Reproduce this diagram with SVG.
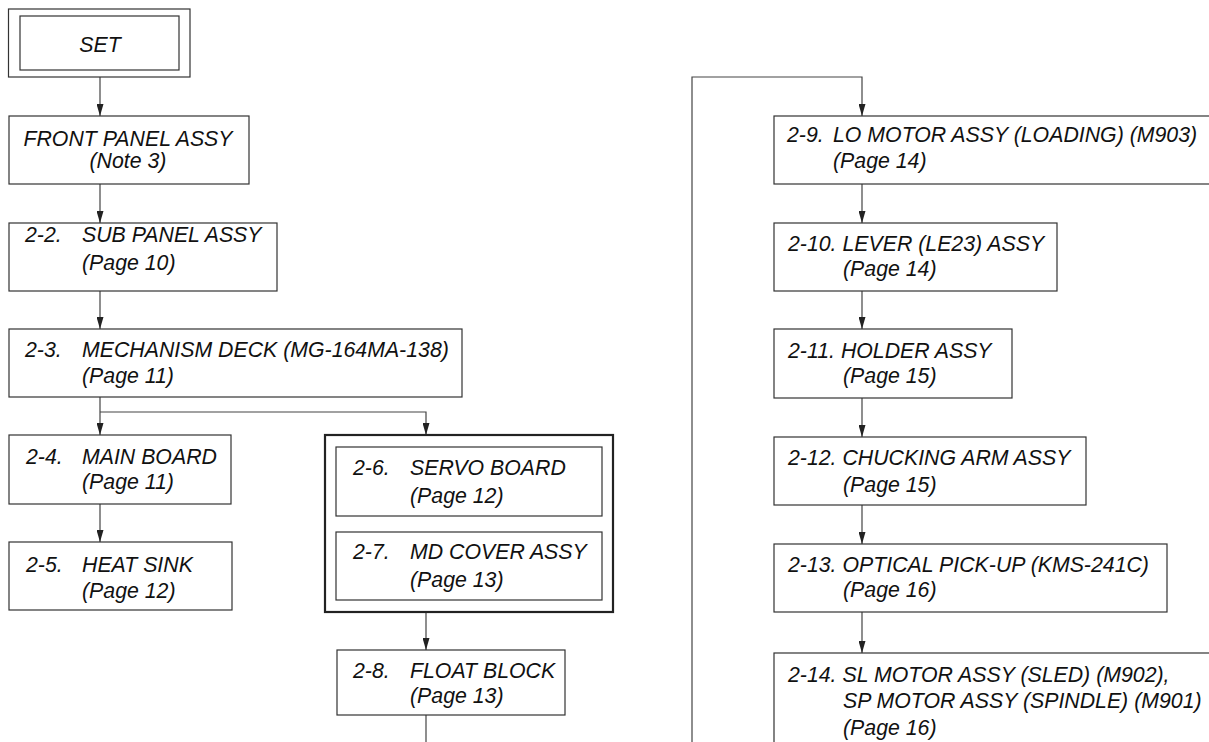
<svg xmlns="http://www.w3.org/2000/svg" width="1209" height="742" viewBox="0 0 1209 742">
<style>
.box{fill:#fff;stroke:#333;stroke-width:1.2}
.thick{fill:none;stroke:#222;stroke-width:2.2}
.wire{fill:none;stroke:#444;stroke-width:1.2}
text{font-family:"Liberation Sans",Arial,sans-serif;font-style:italic;font-size:21.3px;fill:#111}
.c{text-anchor:middle}
</style>
<defs>
<marker id="arr" viewBox="0 0 12 7" refX="12" refY="3.5" markerWidth="12" markerHeight="7" markerUnits="userSpaceOnUse" orient="auto">
<path d="M0,0 L12,3.5 L0,7 z" fill="#222"/>
</marker>
</defs>
<rect width="1209" height="742" fill="#fff"/>
<g id="connectors">
<path class="wire" d="M100,77 V116" marker-end="url(#arr)"/>
<path class="wire" d="M100,184 V223" marker-end="url(#arr)"/>
<path class="wire" d="M100,291 V329" marker-end="url(#arr)"/>
<path class="wire" d="M100,397 V435" marker-end="url(#arr)"/>
<path class="wire" d="M100,412 H426 V435" marker-end="url(#arr)"/>
<path class="wire" d="M100,504 V542" marker-end="url(#arr)"/>
<path class="wire" d="M426,612 V650" marker-end="url(#arr)"/>
<path class="wire" d="M426,715 V742"/>
<path class="wire" d="M692,742 V77 H862 V116" marker-end="url(#arr)"/>
<path class="wire" d="M862,184 V223" marker-end="url(#arr)"/>
<path class="wire" d="M862,291 V329" marker-end="url(#arr)"/>
<path class="wire" d="M862,398 V437" marker-end="url(#arr)"/>
<path class="wire" d="M862,505 V544" marker-end="url(#arr)"/>
<path class="wire" d="M862,612 V653" marker-end="url(#arr)"/>
</g>
<g id="set">
<rect class="box" x="8.5" y="9" width="181.5" height="68"/>
<rect class="box" x="20" y="16" width="159" height="54"/>
<text class="c" x="100" y="52">SET</text>
</g>
<g id="front-panel">
<rect class="box" x="9" y="116" width="240" height="68"/>
<text class="c" x="128" y="146">FRONT PANEL ASSY</text>
<text class="c" x="128" y="168">(Note 3)</text>
</g>
<g id="n2-2">
<rect class="box" x="9" y="223" width="268" height="68"/>
<text x="25" y="242">2-2.</text><text x="82" y="242">SUB PANEL ASSY</text>
<text x="82" y="270">(Page 10)</text>
</g>
<g id="n2-3">
<rect class="box" x="9" y="329" width="453" height="68"/>
<text x="25" y="357">2-3.</text><text x="82" y="357">MECHANISM DECK (MG-164MA-138)</text>
<text x="82" y="383">(Page 11)</text>
</g>
<g id="n2-4">
<rect class="box" x="9" y="435" width="222" height="69"/>
<text x="26" y="464">2-4.</text><text x="82" y="464">MAIN BOARD</text>
<text x="82" y="489">(Page 11)</text>
</g>
<g id="n2-5">
<rect class="box" x="9" y="542" width="223" height="68"/>
<text x="26" y="572">2-5.</text><text x="82" y="572">HEAT SINK</text>
<text x="82" y="598">(Page 12)</text>
</g>
<g id="group-2-6-2-7">
<rect class="thick" x="325" y="435" width="288" height="177"/>
</g>
<g id="n2-6">
<rect class="box" x="336" y="447" width="266" height="69"/>
<text x="353" y="475">2-6.</text><text x="410" y="475">SERVO BOARD</text>
<text x="410" y="503">(Page 12)</text>
</g>
<g id="n2-7">
<rect class="box" x="336" y="532" width="266" height="68"/>
<text x="353" y="559">2-7.</text><text x="410" y="559">MD COVER ASSY</text>
<text x="410" y="587">(Page 13)</text>
</g>
<g id="n2-8">
<rect class="box" x="337" y="650" width="228" height="65"/>
<text x="353" y="678">2-8.</text><text x="410" y="678">FLOAT BLOCK</text>
<text x="410" y="703">(Page 13)</text>
</g>
<g id="n2-9">
<rect class="box" x="774" y="116" width="445" height="68"/>
<text x="787" y="142">2-9.</text><text x="833" y="142">LO MOTOR ASSY (LOADING) (M903)</text>
<text x="833" y="168">(Page 14)</text>
</g>
<g id="n2-10">
<rect class="box" x="774" y="223" width="283" height="68"/>
<text x="788" y="251">2-10. LEVER (LE23) ASSY</text>
<text x="843" y="276">(Page 14)</text>
</g>
<g id="n2-11">
<rect class="box" x="774" y="329" width="238" height="69"/>
<text x="788" y="358">2-11. HOLDER ASSY</text>
<text x="843" y="383">(Page 15)</text>
</g>
<g id="n2-12">
<rect class="box" x="774" y="437" width="312" height="68"/>
<text x="788" y="465">2-12. CHUCKING ARM ASSY</text>
<text x="843" y="492">(Page 15)</text>
</g>
<g id="n2-13">
<rect class="box" x="774" y="544" width="393" height="68"/>
<text x="788" y="572">2-13. OPTICAL PICK-UP (KMS-241C)</text>
<text x="843" y="597">(Page 16)</text>
</g>
<g id="n2-14">
<rect class="box" x="774" y="653" width="445" height="100"/>
<text x="788" y="682">2-14. SL MOTOR ASSY (SLED) (M902),</text>
<text x="843" y="708">SP MOTOR ASSY (SPINDLE) (M901)</text>
<text x="843" y="735">(Page 16)</text>
</g>
</svg>
